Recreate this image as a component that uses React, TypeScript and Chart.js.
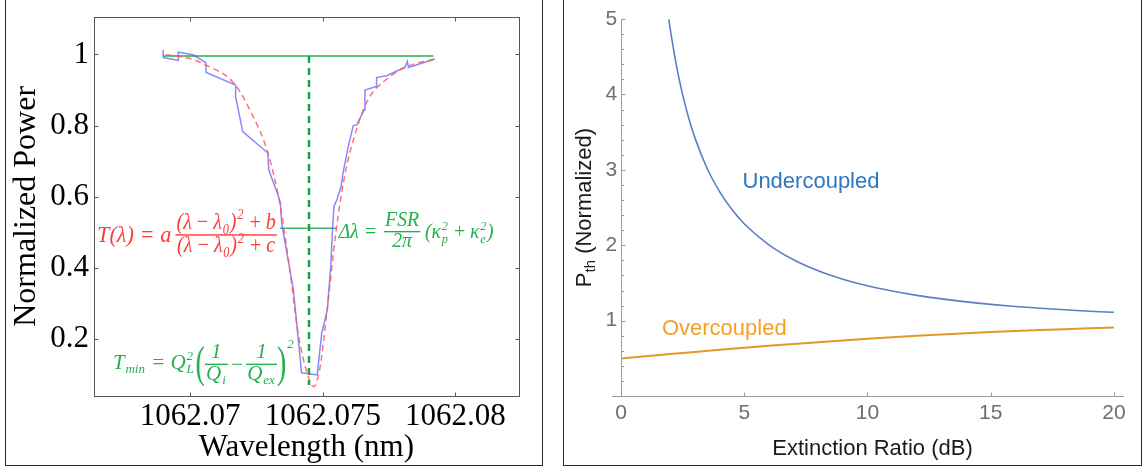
import React, { useEffect, useRef } from 'react';
import { Chart, registerables } from 'chart.js';

Chart.register(...registerables);

// ---------------- Left panel: measured resonance dip ----------------
const measWavelength = [
  1062.06898, 1062.06898, 1062.06955, 1062.06955, 1062.07011, 1062.07059, 1062.0706,
  1062.07171, 1062.07171, 1062.07198, 1062.07293, 1062.07296, 1062.07333, 1062.0734,
  1062.07345, 1062.07389, 1062.0742, 1062.07479, 1062.07496, 1062.07517, 1062.0753,
  1062.07537, 1062.07542, 1062.07553, 1062.07569, 1062.07576, 1062.07596, 1062.07615,
  1062.07628, 1062.07656, 1062.07659, 1062.07701, 1062.07703, 1062.07741, 1062.0781,
  1062.07819, 1062.07823, 1062.07923,
];
const measPower = [
  1.013, 0.991, 0.983, 1.006, 0.999, 0.977, 0.949,
  0.914, 0.882, 0.783, 0.723, 0.676, 0.601, 0.584,
  0.526, 0.339, 0.106, 0.1, 0.217, 0.282, 0.404,
  0.512, 0.573, 0.591, 0.629, 0.666, 0.741, 0.8,
  0.802, 0.844, 0.9, 0.91, 0.935, 0.94, 0.964,
  0.98, 0.963, 0.987,
];
const fitWavelength = [
  1062.06908, 1062.06996, 1062.07057, 1062.07165, 1062.07225, 1062.07293, 1062.0734,
  1062.07374, 1062.07407, 1062.07441, 1062.07465, 1062.07488, 1062.07515, 1062.07549,
  1062.07582, 1062.07623, 1062.0767, 1062.07737, 1062.07818, 1062.07922,
];
const fitPower = [
  0.999, 0.989, 0.971, 0.919, 0.844, 0.723, 0.573,
  0.404, 0.217, 0.105, 0.067, 0.114, 0.273, 0.498,
  0.657, 0.779, 0.872, 0.928, 0.966, 0.987,
];
const plateauLevel = 0.9958;
const plateauStart = 1062.06898;
const plateauEnd = 1062.07917;
const resonanceWavelength = 1062.07448;
const resonanceDepth = 0.0716;
const halfLevel = 0.5118;
const halfStart = 1062.073385;
const halfEnd = 1062.075525;
const wavelengthTicks = [1062.07, 1062.075, 1062.08];
const wavelengthTickLabels = ['1062.07', '1062.075', '1062.08'];
const powerTicks = [0.2, 0.4, 0.6, 0.8, 1];
const powerTickLabels = ['0.2', '0.4', '0.6', '0.8', '1'];
const fitEqAnchor = { x: 1062.073272, y: 0.493 };
const tminEqAnchor = { x: 1062.067083, y: 0.117 };

// ---------------- Right panel: threshold vs extinction ratio ----------------
const erUnder = [1.94, 2, 2.25, 2.5, 2.75, 3, 3.5, 4, 4.5, 5, 6, 7, 8, 9, 10, 11, 12, 13, 14, 15, 16, 17, 18, 19, 20];
const pthUnder = [4.996, 4.862, 4.382, 3.998, 3.685, 3.424, 3.015, 2.71, 2.473, 2.285, 2.005, 1.807, 1.661, 1.55, 1.462, 1.393, 1.336, 1.289, 1.249, 1.216, 1.188, 1.165, 1.144, 1.126, 1.111];
const erOver = [0, 1, 2, 3, 4, 5, 6, 7, 8, 9, 10, 11, 12, 13, 14, 15, 16, 17, 18, 19, 20];
const pthOver = [0.5, 0.529, 0.557, 0.585, 0.613, 0.64, 0.666, 0.691, 0.715, 0.738, 0.76, 0.78, 0.799, 0.817, 0.834, 0.849, 0.863, 0.876, 0.888, 0.899, 0.909];
const erTicks = [0, 5, 10, 15, 20];
const pthTicks = [1, 2, 3, 4, 5];
const underLabel = { x: 4.93, y: 2.84, text: 'Undercoupled' };
const overLabel = { x: 1.66, y: 0.89, text: 'Overcoupled' };

const SERIF = '"Liberation Serif", "Times New Roman", serif';
const SANS = '"Liberation Sans", Arial, sans-serif';
const EQ_RED = '#ff3b3b';
const EQ_GREEN = '#20b24e';
const TS = '\u2009';

type Run = string | { sub?: string; sup?: string };

const eqFont = (size: number) => `italic ${size}px ${SERIF}`;

function runWidth(ctx: CanvasRenderingContext2D, r: Run, size: number) {
  if (typeof r === 'string') {
    ctx.font = eqFont(size);
    return ctx.measureText(r).width;
  }
  ctx.font = eqFont(size * 0.62);
  const a = r.sub ? ctx.measureText(r.sub).width : 0;
  const b = r.sup ? ctx.measureText(r.sup).width : 0;
  return Math.max(a, b) + size * 0.08;
}
function runsWidth(ctx: CanvasRenderingContext2D, runs: Run[], size: number) {
  return runs.reduce((s, r) => s + runWidth(ctx, r, size), 0);
}
function drawRuns(ctx: CanvasRenderingContext2D, runs: Run[], x: number, base: number, size: number) {
  let cx = x;
  ctx.textAlign = 'left';
  ctx.textBaseline = 'alphabetic';
  for (const r of runs) {
    const w = runWidth(ctx, r, size);
    if (typeof r === 'string') {
      ctx.font = eqFont(size);
      ctx.fillText(r, cx, base);
    } else {
      ctx.font = eqFont(size * 0.62);
      if (r.sup) ctx.fillText(r.sup, cx + size * 0.04, base - size * 0.4);
      if (r.sub) ctx.fillText(r.sub, cx + size * 0.04, base + size * 0.22);
    }
    cx += w;
  }
  return cx - x;
}
function drawFraction(ctx: CanvasRenderingContext2D, num: Run[], den: Run[], x: number, barY: number, size: number) {
  const nw = runsWidth(ctx, num, size);
  const dw = runsWidth(ctx, den, size);
  const w = Math.max(nw, dw) + size * 0.12;
  drawRuns(ctx, num, x + (w - nw) / 2, barY - size * 0.28, size);
  drawRuns(ctx, den, x + (w - dw) / 2, barY + size * 0.73, size);
  ctx.fillRect(x, barY - 0.7, w, 1.4);
  return w;
}
function bigParen(ctx: CanvasRenderingContext2D, ch: string, x: number, centerY: number) {
  ctx.save();
  ctx.font = `28px ${SERIF}`;
  const w = ctx.measureText(ch).width;
  ctx.translate(x, centerY);
  ctx.scale(1, 1.6);
  ctx.textBaseline = 'alphabetic';
  ctx.fillText(ch, 0, 28 * 0.24);
  ctx.restore();
  return w;
}
// horizontal compression about a fixed x
function squeeze(ctx: CanvasRenderingContext2D, k: number, ox: number) {
  ctx.setTransform(k, 0, 0, 1, ox * (1 - k), 0);
}

const leftDecor = {
  id: 'leftDecor',
  afterDraw(chart: any) {
    const { ctx, chartArea: a, scales } = chart;
    const xs = scales.x;
    const ys = scales.y;
    ctx.save();
    const L = Math.round(a.left) + 0.5;
    const R = Math.round(a.right) + 0.5;
    const T = Math.round(a.top) + 0.5;
    const B = Math.round(a.bottom) + 0.5;
    ctx.strokeStyle = '#555555';
    ctx.lineWidth = 1;
    ctx.strokeRect(L, T, R - L, B - T);
    ctx.beginPath();
    wavelengthTicks.forEach((v) => {
      const p = Math.round(xs.getPixelForValue(v)) + 0.5;
      ctx.moveTo(p, B); ctx.lineTo(p, B - 4);
      ctx.moveTo(p, T); ctx.lineTo(p, T + 4);
    });
    powerTicks.forEach((v) => {
      const p = Math.round(ys.getPixelForValue(v)) + 0.5;
      ctx.moveTo(L, p); ctx.lineTo(L + 4, p);
      ctx.moveTo(R, p); ctx.lineTo(R - 4, p);
    });
    ctx.stroke();

    // Lorentzian fit equation (red)
    const S1 = 23;
    const K1 = 0.87;
    ctx.fillStyle = EQ_RED;
    const ax = xs.getPixelForValue(fitEqAnchor.x);
    const ay = ys.getPixelForValue(fitEqAnchor.y);
    const num: Run[] = ['(λ' + TS + '−' + TS + 'λ', { sub: '0' }, ')', { sup: '2' }, TS + '+' + TS + 'b'];
    const den: Run[] = ['(λ' + TS + '−' + TS + 'λ', { sub: '0' }, ')', { sup: '2' }, TS + '+' + TS + 'c'];
    const fw = Math.max(runsWidth(ctx, num, S1), runsWidth(ctx, den, S1)) + S1 * 0.12;
    ctx.save();
    squeeze(ctx, K1, ax);
    drawFraction(ctx, num, den, ax - fw, ay, S1);
    ctx.restore();
    const lhs: Run[] = ['T(λ) = a'];
    const lw = runsWidth(ctx, lhs, S1);
    const lhsRight = ax - fw * K1 - 4;
    ctx.save();
    squeeze(ctx, 0.97, lhsRight);
    drawRuns(ctx, lhs, lhsRight - lw, ay + S1 * 0.3, S1);
    ctx.restore();

    // Linewidth equation (green)
    const S2 = 21;
    ctx.fillStyle = EQ_GREEN;
    const gx = xs.getPixelForValue(halfEnd) + 2;
    const gy = ys.getPixelForValue(halfLevel) + 3.4;
    ctx.save();
    squeeze(ctx, 0.94, gx);
    let cx = gx;
    cx += drawRuns(ctx, ['Δλ = '], cx, gy + S2 * 0.3, S2) + 2;
    cx += drawFraction(ctx, ['FSR'], ['2π'], cx, gy, S2) + 5;
    drawRuns(ctx, ['(κ', { sub: 'p', sup: '2' }, TS + '+' + TS + 'κ', { sub: 'e', sup: '2' }, ')'], cx, gy + S2 * 0.3, S2);
    ctx.restore();

    // Tmin equation (green)
    const S3 = 21;
    const tx = xs.getPixelForValue(tminEqAnchor.x);
    const tb = ys.getPixelForValue(tminEqAnchor.y);
    cx = tx;
    cx += drawRuns(ctx, ['T', { sub: 'min' }, ' = Q', { sub: 'L', sup: '2' }], cx, tb, S3) + 1;
    const barY = tb - 4.5;
    cx += bigParen(ctx, '(', cx, barY + 2);
    cx += drawFraction(ctx, ['1'], ['Q', { sub: 'i' }], cx, barY, S3) + 2;
    cx += drawRuns(ctx, ['−'], cx, barY + S3 * 0.3, S3) + 2;
    cx += drawFraction(ctx, ['1'], ['Q', { sub: 'ex' }], cx, barY, S3);
    cx += bigParen(ctx, ')', cx, barY + 2);
    ctx.font = eqFont(S3 * 0.62);
    ctx.fillText('2', cx + 1, tb - 21);
    ctx.restore();
  },
};

const rightDecor = {
  id: 'rightDecor',
  beforeDatasetsDraw(chart: any) {
    const { ctx, chartArea: a, scales } = chart;
    const xs = scales.x;
    const ys = scales.y;
    ctx.save();
    ctx.strokeStyle = '#9a9a9a';
    ctx.lineWidth = 1;
    const y0 = Math.round(ys.getPixelForValue(0)) + 0.5;
    const x0 = Math.round(xs.getPixelForValue(0)) + 0.5;
    ctx.beginPath();
    ctx.moveTo(a.left - 9, y0); ctx.lineTo(a.right, y0);
    ctx.moveTo(x0, y0); ctx.lineTo(x0, ys.getPixelForValue(5));
    for (let k = 1; k <= 25; k++) {
      const p = Math.round(ys.getPixelForValue(k * 0.2)) + 0.5;
      const len = k % 5 === 0 ? 4 : 2.5;
      ctx.moveTo(x0, p); ctx.lineTo(x0 + len, p);
    }
    erTicks.forEach((v) => {
      const p = Math.round(xs.getPixelForValue(v)) + 0.5;
      ctx.moveTo(p, y0); ctx.lineTo(p, y0 - 4);
    });
    ctx.stroke();
    ctx.restore();
  },
  afterDraw(chart: any) {
    const { ctx, scales } = chart;
    const xs = scales.x;
    const ys = scales.y;
    ctx.save();
    ctx.textAlign = 'left';
    ctx.textBaseline = 'middle';
    ctx.font = `22px ${SANS}`;
    ctx.fillStyle = '#2a78c2';
    ctx.fillText(underLabel.text, xs.getPixelForValue(underLabel.x), ys.getPixelForValue(underLabel.y));
    ctx.fillStyle = '#f5a01e';
    ctx.fillText(overLabel.text, xs.getPixelForValue(overLabel.x), ys.getPixelForValue(overLabel.y));

    // y title with subscript
    ctx.translate(39, (chart.chartArea.top + chart.chartArea.bottom) / 2);
    ctx.rotate(-Math.PI / 2);
    ctx.textBaseline = 'alphabetic';
    ctx.fillStyle = '#1a1a1a';
    ctx.font = `22px ${SANS}`;
    const wP = ctx.measureText('P').width;
    const wRest = ctx.measureText(' (Normalized)').width;
    ctx.font = `15px ${SANS}`;
    const wSub = ctx.measureText('th').width;
    let px = -(wP + wSub + wRest) / 2;
    ctx.font = `22px ${SANS}`;
    ctx.fillText('P', px, 0);
    px += wP;
    ctx.font = `15px ${SANS}`;
    ctx.fillText('th', px, 4);
    px += wSub;
    ctx.font = `22px ${SANS}`;
    ctx.fillText(' (Normalized)', px, 0);
    ctx.restore();
  },
};

const noPad = (s: any) => {
  s.paddingTop = 0;
  s.paddingBottom = 0;
  s.paddingLeft = 0;
  s.paddingRight = 0;
};

export default function App() {
  const leftRef = useRef<HTMLCanvasElement>(null);
  const rightRef = useRef<HTMLCanvasElement>(null);

  useEffect(() => {
    const pts = (xs: number[], ys: number[]) => xs.map((x, i) => ({ x, y: ys[i] }));

    const left = new Chart(leftRef.current as HTMLCanvasElement, {
      type: 'line',
      data: {
        datasets: [
          {
            data: [{ x: resonanceWavelength, y: plateauLevel }, { x: resonanceWavelength, y: resonanceDepth }],
            borderColor: '#1e9f4a', borderWidth: 2.5, borderDash: [7, 5], pointRadius: 0,
          },
          {
            data: pts(fitWavelength, fitPower),
            borderColor: 'rgba(255,90,90,0.85)', borderWidth: 1.5, borderDash: [6, 4],
            pointRadius: 0, cubicInterpolationMode: 'monotone',
          },
          {
            data: pts(measWavelength, measPower),
            borderColor: 'rgba(90,90,255,0.72)', borderWidth: 1.5, pointRadius: 0, tension: 0,
          },
          {
            data: [{ x: plateauStart, y: plateauLevel }, { x: plateauEnd, y: plateauLevel }],
            borderColor: '#22b04a', borderWidth: 1.5, pointRadius: 0,
          },
          {
            data: [{ x: halfStart, y: halfLevel }, { x: halfEnd, y: halfLevel }],
            borderColor: '#3cb86e', borderWidth: 1.5, pointRadius: 0,
          },
        ],
      },
      options: {
        responsive: false,
        animation: false,
        devicePixelRatio: 1,
        events: [],
        layout: { padding: { top: 17, right: 33.3, left: 0, bottom: 0 } },
        plugins: { legend: { display: false }, tooltip: { enabled: false } },
        scales: {
          x: {
            type: 'linear',
            min: 1062.06637,
            max: 1062.08239,
            afterBuildTicks: (s: any) => { s.ticks = wavelengthTicks.map((v) => ({ value: v })); },
            afterFit: (s: any) => { s.height = 73.3; noPad(s); },
            grid: { display: false, drawTicks: false },
            border: { display: false },
            ticks: {
              autoSkip: false, maxRotation: 0, padding: 2.4, color: '#000',
              font: { family: SERIF, size: 31 },
              callback: (_v: any, i: number) => wavelengthTickLabels[i],
            },
            title: {
              display: true, text: 'Wavelength (nm)', color: '#000',
              font: { family: SERIF, size: 31 }, padding: { top: 0, bottom: 3 },
            },
          },
          y: {
            type: 'linear',
            min: 0.0416,
            max: 1.105,
            afterBuildTicks: (s: any) => { s.ticks = powerTicks.map((v) => ({ value: v })); },
            afterFit: (s: any) => { s.width = 94; noPad(s); },
            grid: { display: false, drawTicks: false },
            border: { display: false },
            ticks: {
              padding: 5, color: '#000', font: { family: SERIF, size: 31 },
              callback: (_v: any, i: number) => powerTickLabels[i],
            },
            title: {
              display: true, text: 'Normalized Power', color: '#000',
              font: { family: SERIF, size: 32 }, padding: { top: 7.5, bottom: 0 },
            },
          },
        },
      },
      plugins: [leftDecor],
    } as any);

    const right = new Chart(rightRef.current as HTMLCanvasElement, {
      type: 'line',
      data: {
        datasets: [
          {
            data: pts(erUnder, pthUnder), borderColor: '#5a7fc3', borderWidth: 1.6,
            pointRadius: 0, cubicInterpolationMode: 'monotone',
          },
          {
            data: pts(erOver, pthOver), borderColor: '#e39a24', borderWidth: 2,
            pointRadius: 0, cubicInterpolationMode: 'monotone',
          },
        ],
      },
      options: {
        responsive: false,
        animation: false,
        devicePixelRatio: 1,
        events: [],
        layout: { padding: { top: 19, right: 24, left: 0, bottom: 0 } },
        plugins: { legend: { display: false }, tooltip: { enabled: false } },
        scales: {
          x: {
            type: 'linear', min: 0, max: 20.41,
            afterBuildTicks: (s: any) => { s.ticks = erTicks.map((v) => ({ value: v })); },
            afterFit: (s: any) => { s.height = 72.9; noPad(s); },
            grid: { display: false, drawTicks: false },
            border: { display: false },
            ticks: {
              autoSkip: false, maxRotation: 0, padding: 4.7, color: '#6e6e6e',
              font: { family: SANS, size: 21 },
              callback: (v: any) => String(v),
            },
            title: {
              display: true, text: 'Extinction Ratio (dB)', color: '#1a1a1a',
              font: { family: SANS, size: 22 }, padding: { top: 0, bottom: 6.5 },
            },
          },
          y: {
            type: 'linear', min: 0, max: 5,
            afterBuildTicks: (s: any) => { s.ticks = pthTicks.map((v) => ({ value: v })); },
            afterFit: (s: any) => { s.width = 69; noPad(s); },
            grid: { display: false, drawTicks: false },
            border: { display: false },
            ticks: {
              padding: 3.7, color: '#6e6e6e', font: { family: SANS, size: 21 },
              callback: (v: any) => String(v),
            },
          },
        },
      },
      plugins: [rightDecor],
    } as any);

    return () => {
      left.destroy();
      right.destroy();
    };
  }, []);

  return (
    <div style={{ position: 'fixed', left: 0, top: 0, width: 1148, height: 469, background: '#fff', overflow: 'hidden' }}>
      <div style={{ position: 'absolute', left: 5, top: -1, width: 538, height: 467, border: '1px solid #2b2b2b', boxSizing: 'border-box' }} />
      <div style={{ position: 'absolute', left: 563, top: -1, width: 579, height: 467, border: '1px solid #2b2b2b', boxSizing: 'border-box' }} />
      <canvas ref={leftRef} width={552} height={469} style={{ position: 'absolute', left: 0, top: 0, width: 552, height: 469 }} />
      <canvas ref={rightRef} width={596} height={469} style={{ position: 'absolute', left: 552, top: 0, width: 596, height: 469 }} />
    </div>
  );
}
